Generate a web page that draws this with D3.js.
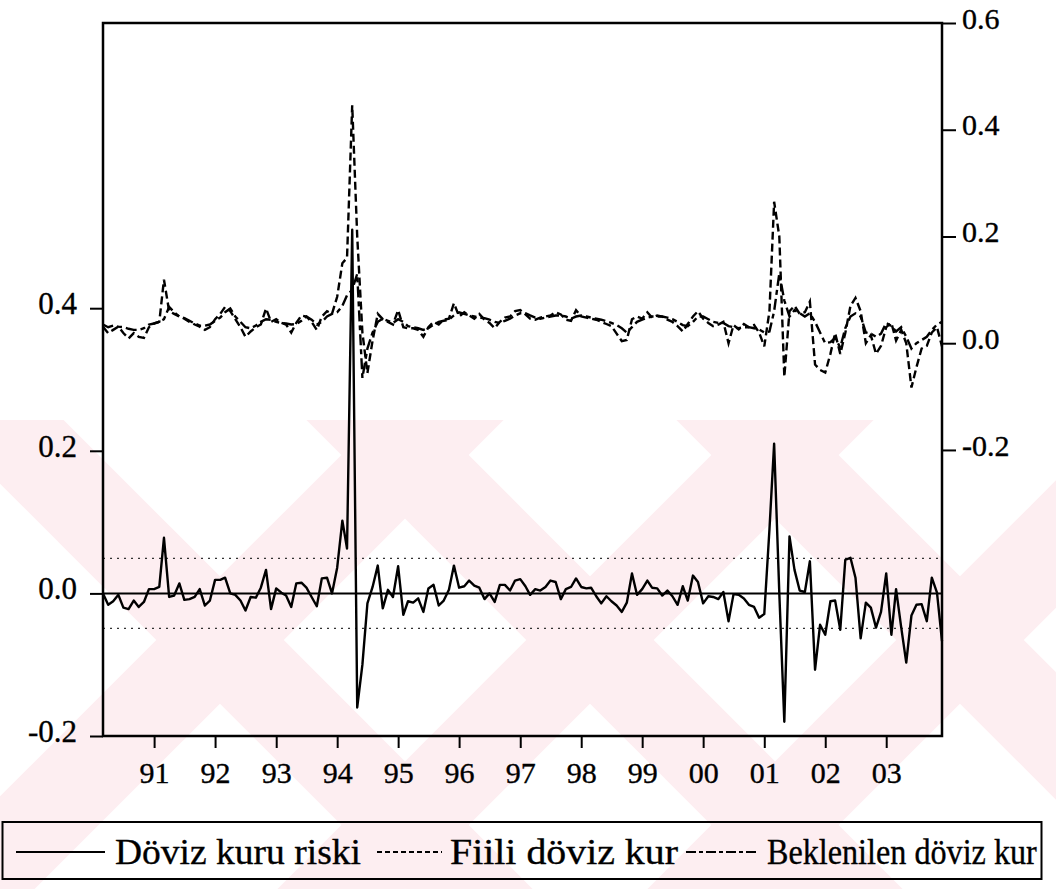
<!DOCTYPE html>
<html>
<head>
<meta charset="utf-8">
<script src="https://cdn.jsdelivr.net/npm/d3@7"></script>
<style>
    body { margin: 0; background: #fff; }
    svg text { font-family: 'Liberation Serif', 'Times New Roman', serif; fill: #000; stroke: #000; stroke-width: 0.35px; }
</style>
</head>
<body>
<svg width="1056" height="889"></svg>
<script>
// monthly observations, 1990:03 - 2003:12
const startMonth = new Date(Date.UTC(1990, 2, 1));
const endMonth = new Date(Date.UTC(2004, 0, 1));

// Döviz kuru riski (left axis)
const riski = [
    0.000, -0.016, -0.011, -0.002, -0.020, -0.022, -0.010, -0.019, -0.012, 0.006,
    0.006, 0.009, 0.078, -0.005, -0.003, 0.014, -0.009, -0.008, -0.005, 0.006,
    -0.017, -0.010, 0.019, 0.019, 0.022, 0.000, -0.002, -0.010, -0.024, -0.005,
    -0.006, 0.008, 0.033, -0.022, 0.007, 0.001, -0.003, -0.019, 0.014, 0.015,
    0.008, -0.005, -0.018, 0.021, 0.022, 0.000, 0.036, 0.102, 0.063, 0.510,
    -0.160, -0.100, -0.014, 0.009, 0.039, -0.021, 0.005, -0.005, 0.038, -0.030,
    -0.011, -0.013, -0.007, -0.026, 0.007, 0.012, -0.017, -0.010, 0.005, 0.039,
    0.008, 0.010, 0.018, 0.011, 0.008, -0.008, 0.000, -0.012, 0.012, 0.012,
    0.004, 0.018, 0.020, 0.010, -0.002, 0.006, 0.004, 0.009, 0.018, 0.016,
    -0.008, 0.006, 0.009, 0.021, 0.009, 0.007, 0.008, -0.004, -0.014, -0.004,
    -0.011, -0.017, -0.026, -0.013, 0.028, -0.002, 0.006, 0.018, 0.008, 0.007,
    -0.003, 0.004, -0.004, -0.016, 0.010, -0.010, 0.025, 0.016, -0.014, -0.004,
    -0.005, -0.008, 0.002, -0.039, -0.001, -0.002, -0.007, -0.016, -0.019, -0.034,
    -0.029, 0.090, 0.210, 0.000, -0.180, 0.080, 0.033, 0.004, 0.002, 0.045,
    -0.107, -0.044, -0.058, -0.011, -0.010, -0.051, 0.047, 0.050, 0.022, -0.063,
    -0.013, -0.020, -0.048, -0.026, 0.028, -0.058, 0.006, -0.048, -0.097, -0.031,
    -0.016, -0.015, -0.039, 0.022, 0.001, -0.067
];

// Fiili döviz kur (right axis)
const fiili = [
    0.031, 0.019, 0.025, 0.031, 0.019, 0.009, 0.019, 0.012, 0.010, 0.030,
    0.037, 0.040, 0.119, 0.060, 0.055, 0.050, 0.046, 0.040, 0.035, 0.031,
    0.025, 0.030, 0.045, 0.055, 0.068, 0.060, 0.045, 0.030, 0.012, 0.022,
    0.030, 0.035, 0.065, 0.040, 0.045, 0.038, 0.035, 0.020, 0.038, 0.052,
    0.050, 0.040, 0.025, 0.050, 0.060, 0.055, 0.087, 0.150, 0.160, 0.446,
    0.200, 0.020, -0.056, 0.005, 0.055, 0.045, 0.040, 0.035, 0.062, 0.030,
    0.028, 0.028, 0.025, 0.012, 0.030, 0.040, 0.035, 0.044, 0.046, 0.075,
    0.050, 0.058, 0.052, 0.046, 0.055, 0.044, 0.038, 0.028, 0.040, 0.048,
    0.050, 0.060, 0.062, 0.054, 0.046, 0.044, 0.048, 0.050, 0.052, 0.058,
    0.054, 0.044, 0.042, 0.062, 0.050, 0.048, 0.046, 0.044, 0.040, 0.036,
    0.032, 0.018, 0.004, 0.006, 0.045, 0.050, 0.046, 0.058, 0.048, 0.052,
    0.050, 0.044, 0.040, 0.032, 0.022, 0.036, 0.050, 0.060, 0.046, 0.038,
    0.032, 0.035, 0.040, 0.000, 0.034, 0.026, 0.036, 0.030, 0.034, 0.020,
    -0.006, 0.060, 0.265, 0.200, -0.063, 0.060, 0.070, 0.055, 0.058, 0.078,
    -0.040, -0.050, -0.055, -0.020, 0.019, -0.020, 0.019, 0.070, 0.085, 0.060,
    0.000, 0.015, -0.020, -0.005, 0.030, 0.038, 0.005, 0.025, 0.000, -0.083,
    -0.045, -0.010, -0.005, 0.020, 0.030, -0.006
];

// Beklenilen döviz kur (right axis)
const beklenilen = [
    0.035, 0.030, 0.033, 0.031, 0.030, 0.027, 0.025, 0.025, 0.028, 0.035,
    0.037, 0.040, 0.045, 0.068, 0.058, 0.050, 0.047, 0.042, 0.037, 0.033,
    0.033, 0.035, 0.042, 0.048, 0.058, 0.065, 0.050, 0.040, 0.030, 0.028,
    0.033, 0.040, 0.045, 0.044, 0.040, 0.038, 0.037, 0.035, 0.036, 0.042,
    0.050, 0.044, 0.035, 0.040, 0.050, 0.055, 0.058, 0.070, 0.090, 0.100,
    0.130, -0.065, -0.010, 0.020, 0.040, 0.046, 0.042, 0.038, 0.045, 0.040,
    0.032, 0.030, 0.028, 0.025, 0.028, 0.035, 0.040, 0.042, 0.044, 0.052,
    0.058, 0.055, 0.052, 0.050, 0.048, 0.047, 0.044, 0.040, 0.038, 0.042,
    0.046, 0.052, 0.056, 0.056, 0.052, 0.048, 0.046, 0.048, 0.050, 0.052,
    0.052, 0.050, 0.046, 0.050, 0.052, 0.050, 0.048, 0.046, 0.044, 0.041,
    0.038, 0.034, 0.028, 0.020, 0.030, 0.040, 0.044, 0.048, 0.050, 0.050,
    0.050, 0.048, 0.045, 0.040, 0.034, 0.032, 0.040, 0.050, 0.050, 0.045,
    0.040, 0.038, 0.038, 0.032, 0.030, 0.028, 0.030, 0.030, 0.028, 0.026,
    0.020, 0.022, 0.060, 0.131, 0.080, 0.050, 0.062, 0.056, 0.050, 0.056,
    0.040, 0.020, 0.000, 0.002, 0.010, -0.008, 0.028, 0.050, 0.056, 0.050,
    0.020, 0.018, 0.012, 0.018, 0.038, 0.032, 0.022, 0.030, 0.012, -0.010,
    0.000, 0.006, 0.012, 0.025, 0.035, 0.040
];

const yearTicks = [1991, 1992, 1993, 1994, 1995, 1996, 1997, 1998, 1999, 2000, 2001, 2002, 2003];
const leftTicks = [-0.2, 0.0, 0.2, 0.4];
const rightTicks = [-0.2, 0.0, 0.2, 0.4, 0.6];
const bandLevels = [-0.049, 0.049];
const legendLabels = ['Döviz kuru riski', 'Fiili döviz kur', 'Beklenilen döviz kur'];

const svg = d3.select('svg');

const margin = {
    top: 23,
    bottom: 153,
    left: 103,
    right: 114
};

const width = +svg.attr('width') - margin.left - margin.right;
const height = +svg.attr('height') - margin.top - margin.bottom;

// faint pink watermark crosses behind the lower half of the page
svg.append('clipPath')
    .attr('id', 'wm-clip')
    .append('rect')
    .attr('x', 0)
    .attr('y', 420)
    .attr('width', 1056)
    .attr('height', 469);

const wm = svg.append('g').attr('clip-path', 'url(#wm-clip)');
[220, 590, 960].forEach(function(cx) {
    const cy = 640;
    const r = 300;
    [[-1, -1, 1, 1], [-1, 1, 1, -1]].forEach(function(s) {
        wm.append('line')
            .attr('x1', cx + s[0] * r)
            .attr('y1', cy + s[1] * r)
            .attr('x2', cx + s[2] * r)
            .attr('y2', cy + s[3] * r)
            .attr('stroke', '#fdeef1')
            .attr('stroke-width', 90);
    });
});

const dates = d3.utcMonth.range(startMonth, endMonth);

// Create scales
const xScale = d3
    .scaleUtc()
    .domain([dates[0], dates[dates.length - 1]])
    .range([0, width]);

const yLeft = d3
    .scaleLinear()
    .domain([-0.2, 0.8])
    .range([height, 0]);

const yRight = d3
    .scaleLinear()
    .domain([-0.736, 0.6])
    .range([height, 0]);

const chart = svg
    .append('g')
    .attr('transform', `translate(${margin.left},${margin.top})`);

const fmt = d => d.toFixed(1);

// Left axis
chart
    .append('g')
    .attr('class', 'axis')
    .call(d3.axisLeft(yLeft).tickValues(leftTicks).tickSize(13).tickPadding(13).tickFormat(fmt))
    .call(g => g.select('.domain').remove())
    .call(g => g.selectAll('text').attr('dy', '0.17em').style('font-size', '31px'));

// Right axis
chart
    .append('g')
    .attr('class', 'axis')
    .attr('transform', `translate(${width},0)`)
    .call(d3.axisRight(yRight).tickValues(rightTicks).tickSize(14).tickPadding(6).tickFormat(fmt))
    .call(g => g.select('.domain').remove())
    .call(g => g.selectAll('text').attr('dy', '0.17em').style('font-size', '30px'));

// Bottom axis
chart
    .append('g')
    .attr('class', 'axis')
    .attr('transform', `translate(0,${height})`)
    .call(
        d3
            .axisBottom(xScale)
            .tickValues(yearTicks.map(y => new Date(Date.UTC(y, 0, 1))))
            .tickSize(12)
            .tickPadding(14)
            .tickFormat(d => String(d.getUTCFullYear()).slice(2))
    )
    .call(g => g.select('.domain').remove())
    .call(g => g.selectAll('text').style('font-size', '30px'));

chart.selectAll('.axis line').attr('stroke', '#000').attr('stroke-width', 2);

// Reference lines
chart
    .append('line')
    .attr('x1', 0)
    .attr('x2', width)
    .attr('y1', yLeft(0))
    .attr('y2', yLeft(0))
    .attr('stroke', '#000')
    .attr('stroke-width', 2);

chart
    .selectAll('.band')
    .data(bandLevels)
    .enter()
    .append('line')
    .attr('class', 'band')
    .attr('x1', 0)
    .attr('x2', width)
    .attr('y1', d => yLeft(d))
    .attr('y2', d => yLeft(d))
    .attr('stroke', '#333')
    .attr('stroke-width', 1.2)
    .attr('stroke-dasharray', '2,5');

// Series
const lineLeft = d3
    .line()
    .x((d, i) => xScale(dates[i]))
    .y(d => yLeft(d));

const lineRight = d3
    .line()
    .x((d, i) => xScale(dates[i]))
    .y(d => yRight(d));

chart
    .append('path')
    .datum(beklenilen)
    .attr('d', lineRight)
    .attr('fill', 'none')
    .attr('stroke', '#000')
    .attr('stroke-width', 2.4)
    .attr('stroke-dasharray', '11,4,5,4');

chart
    .append('path')
    .datum(fiili)
    .attr('d', lineRight)
    .attr('fill', 'none')
    .attr('stroke', '#000')
    .attr('stroke-width', 2.4)
    .attr('stroke-dasharray', '8,4');

chart
    .append('path')
    .datum(riski)
    .attr('d', lineLeft)
    .attr('fill', 'none')
    .attr('stroke', '#000')
    .attr('stroke-width', 2.4)
    .attr('stroke-linejoin', 'round');

// Frame
chart
    .append('rect')
    .attr('width', width)
    .attr('height', height)
    .attr('fill', 'none')
    .attr('stroke', '#000')
    .attr('stroke-width', 2.5);

// Legend
const legend = svg.append('g');

legend
    .append('rect')
    .attr('x', 2.5)
    .attr('y', 822)
    .attr('width', 1039)
    .attr('height', 57)
    .attr('fill', 'none')
    .attr('stroke', '#000')
    .attr('stroke-width', 2);

// sample line extents and text start; text is squeezed to its box width
const legendItems = [
    { x1: 16, x2: 105, tx: 115, tw: 246, dash: null },
    { x1: 377, x2: 442, tx: 450, tw: 228, dash: '5,3' },
    { x1: 686, x2: 757, tx: 767, tw: 270, dash: '10,3,4,3' }
];

legendItems.forEach(function(item, i) {
    legend
        .append('line')
        .attr('x1', item.x1)
        .attr('x2', item.x2)
        .attr('y1', 852)
        .attr('y2', 852)
        .attr('stroke', '#000')
        .attr('stroke-width', 2)
        .attr('stroke-dasharray', item.dash);
    const t = legend
        .append('text')
        .style('font-size', '36px')
        .text(legendLabels[i]);
    const w = t.node().getComputedTextLength();
    t.attr('transform', `translate(${item.tx},864) scale(${item.tw / w},1)`);
});
</script>
</body>
</html>
